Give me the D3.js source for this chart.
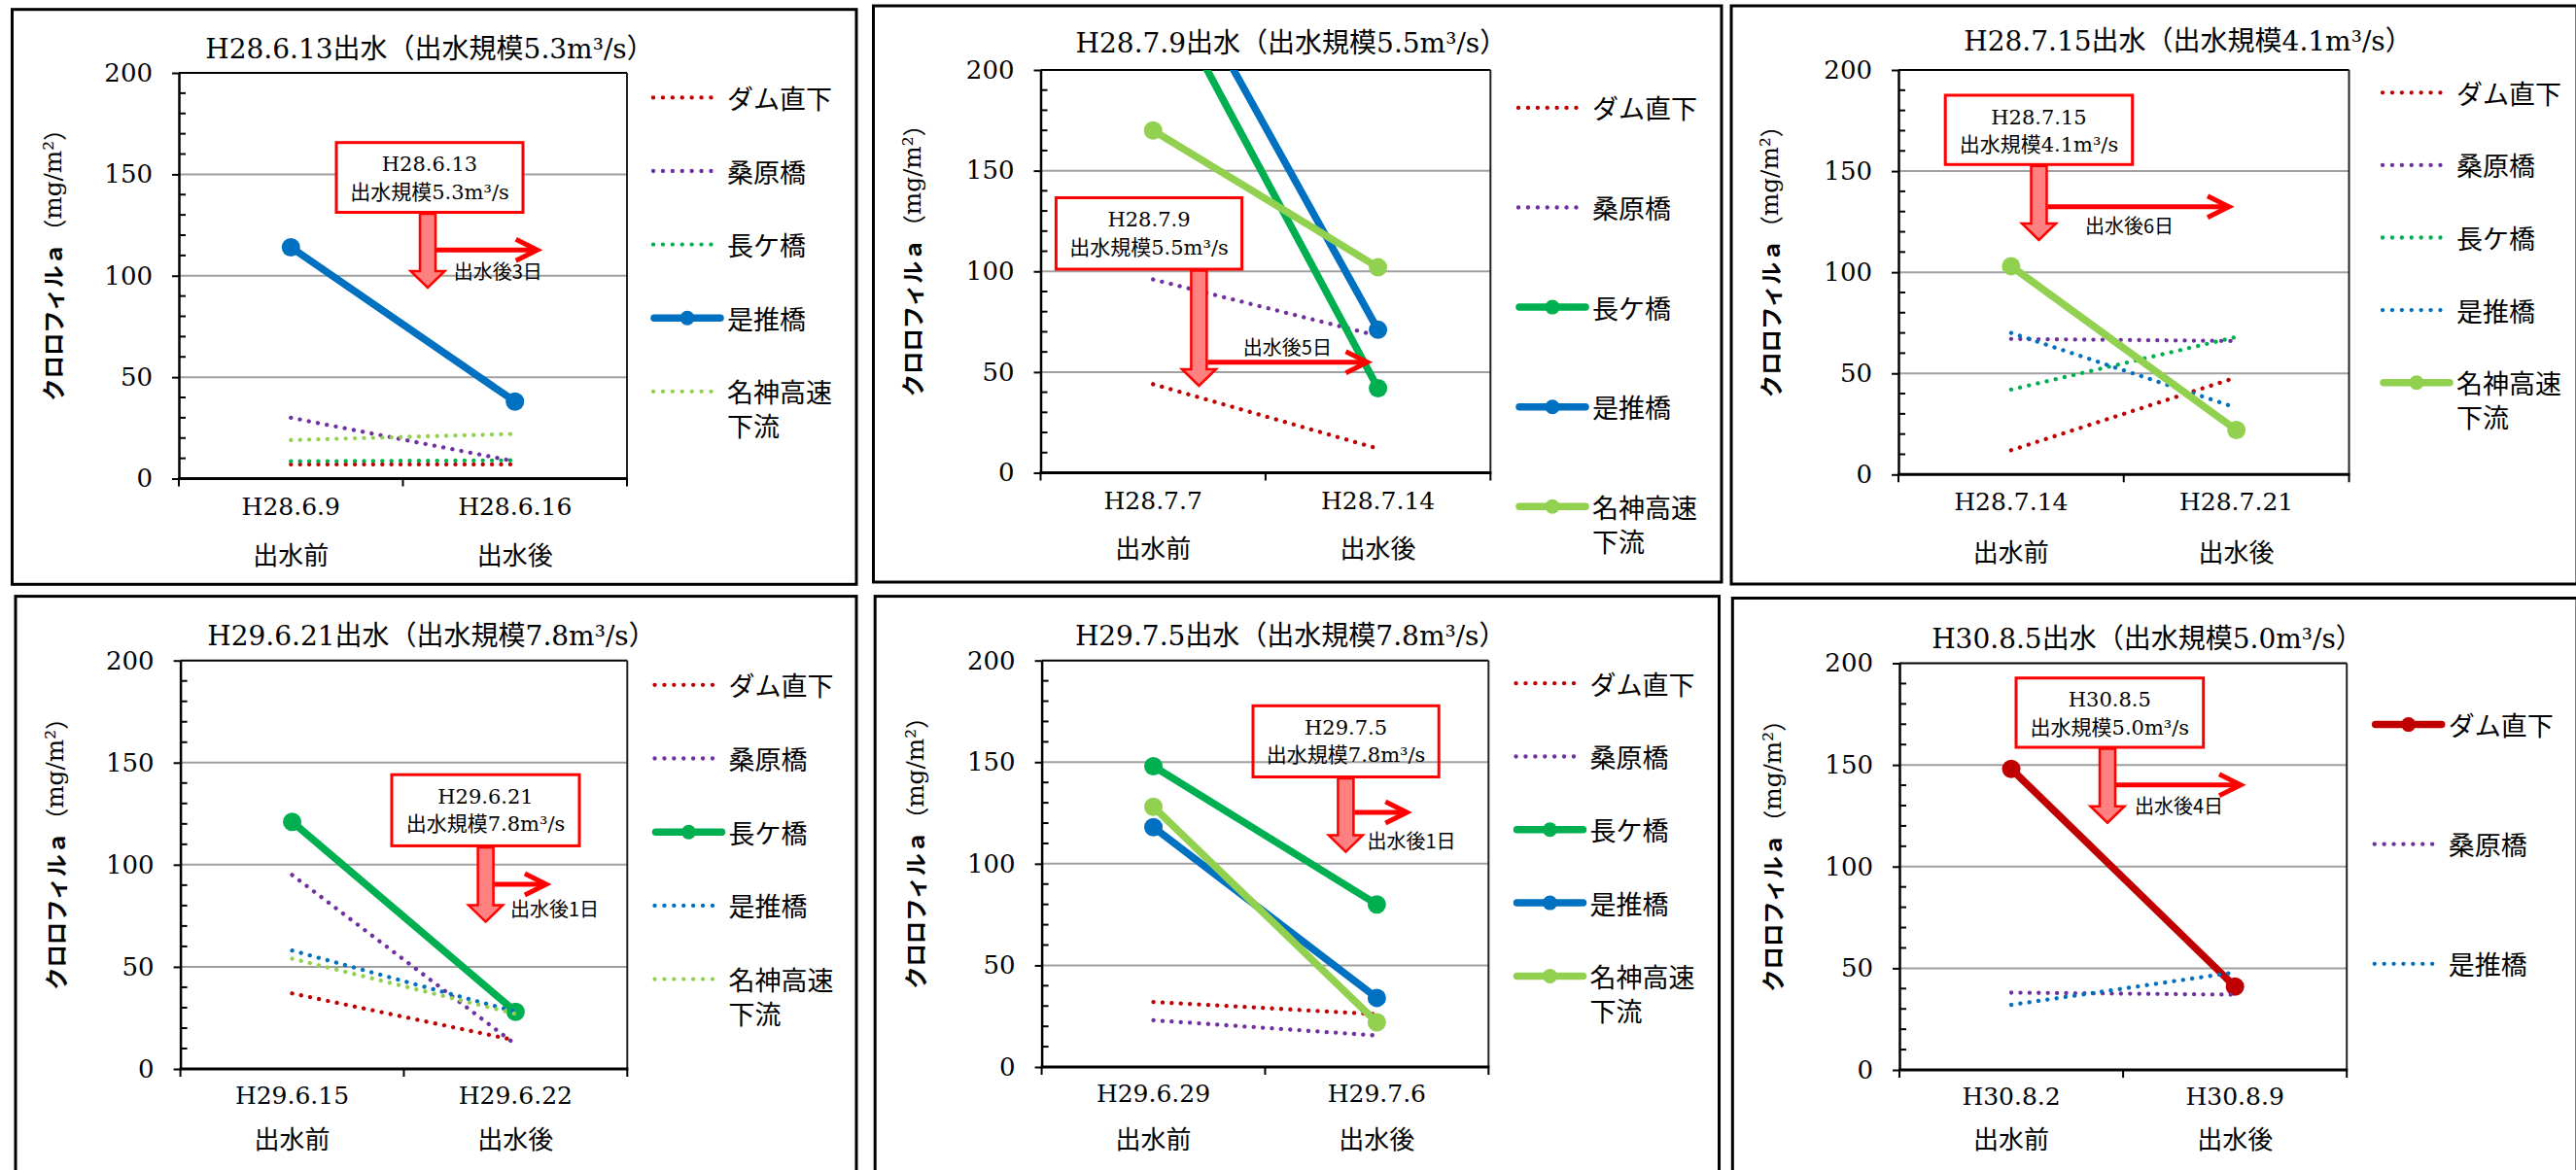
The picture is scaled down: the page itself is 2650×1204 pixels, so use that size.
<!DOCTYPE html>
<html><head><meta charset="utf-8">
<script src="https://cdn.jsdelivr.net/npm/d3@7"></script>
<style>
html,body{margin:0;padding:0;background:#fff;}
svg{display:block;}
</style></head>
<body><svg id="c" width="2650" height="1204"></svg>
<script>
// ---------------- data ----------------
const seriesNames = ["ダム直下","桑原橋","長ケ橋","是推橋","名神高速下流"];
const legendLabels = [["ダム直下"],["桑原橋"],["長ケ橋"],["是推橋"],["名神高速","下流"]];
const floodDates = ["H28.6.13","H28.7.9","H28.7.15","H29.6.21","H29.7.5","H30.8.5"];
const floodScales = ["5.3","5.5","4.1","7.8","7.8","5.0"];
const daysAfter = [3,5,6,1,1,4];
const beforeDates = ["H28.6.9","H28.7.7","H28.7.14","H29.6.15","H29.6.29","H30.8.2"];
const afterDates = ["H28.6.16","H28.7.14","H28.7.21","H29.6.22","H29.7.6","H30.8.9"];
const phaseLabels = ["出水前","出水後"];
const yTicks = [0,50,100,150,200];
const damValues      = [[7,7],[44,12],[12,48],[37,14],[32,26],[148,41]];
const kuwabaraValues = [[30,8.5],[96,68],[67,66],[95,12],[23,15.5],[38,37]];
const nagakeValues   = [[8.5,9],[250,42],[42,68],[121,28],[148,80],null];
const zesuiValues    = [[114,38],[272,71],[70,33],[58,28],[118,34],[32,48]];
const meishinValues  = [[19,22],[170,102],[103,22],[54,27],[128,22],null];
const highlighted = [[3],[2,3,4],[4],[2],[2,3,4],[0]];

// ---------------- styles / layout ----------------
const seriesColors = ["#C00000","#7030A0","#00B050","#0070C0","#92D050"];
const serif = "'DejaVu Serif','Noto Sans CJK JP',serif";
const gothic = "'Noto Sans CJK JP',sans-serif";
const layout = [
 {frame:[12.5,9.7,881,601.3], plot:[184,75,645,492.5], title:[442,50], yLabX:54, xLabY:[521,569],
  leg:[671,100.4,75.6], box:[346,146.7,538,218.5], shaftX:440, tipY:296, arrowY:257.3, arrowX2:552.7, day:[466.7,278.3], boxFill:"#fff"},
 {frame:[898.5,6,1771,599], plot:[1070.5,72,1533.3,486.5], title:[1328.4,44.7], yLabX:938, xLabY:[515.6,562.3],
  leg:[1561,110.9,102.6], box:[1086.4,203.5,1277.6,277], shaftX:1233.4, tipY:397, arrowY:372.8, arrowX2:1406.5, day:[1278.8,356], boxFill:"#fff"},
 {frame:[1781,6,2651,601], plot:[1953,72,2416.5,488.3], title:[2251,42.8], yLabX:1820.5, xLabY:[516.7,566],
  leg:[2450,95.3,74.6], box:[2001.2,98,2193.7,169.3], shaftX:2097.5, tipY:247, arrowY:212.8, arrowX2:2293, day:[2144.9,231.5], boxFill:"#fff"},
 {frame:[16,613.6,881,1215], plot:[185.6,679.7,645.3,1100], title:[444,654], yLabX:56.8, xLabY:[1127.7,1170],
  leg:[672.5,704.8,75.7], box:[403,797.2,596,870.4], shaftX:499.6, tipY:948.6, arrowY:910.1, arrowX2:561.9, day:[525,934.4], boxFill:"#fff"},
 {frame:[900.2,613.6,1768.5,1215], plot:[1071.6,679.7,1531.3,1098], title:[1327.7,654], yLabX:941, xLabY:[1125.8,1170],
  leg:[1558.5,703.2,75.3], box:[1289,726.3,1480.2,799.5], shaftX:1384.4, tipY:876.6, arrowY:836.1, arrowX2:1447.3, day:[1406.5,864.3], boxFill:"none"},
 {frame:[1782.3,615.5,2651,1215], plot:[1954,682.5,2414.2,1101], title:[2209,657], yLabX:1823, xLabY:[1128.5,1170],
  leg:[2441.7,745.6,123.1], box:[2074,697.7,2266.7,769], shaftX:2168, tipY:846.7, arrowY:807.7, arrowX2:2305, day:[2196,828.3], boxFill:"#fff"}
];
// rotated y-axis title: pieces with their font and target length
const yLabelParts = [
  {t:"クロロフィルａ", f:gothic, w:"700", len:163},
  {t:"（", f:gothic, w:"400", len:24},
  {t:"mg/m²", f:"'DejaVu Serif',serif", w:"400", len:81},
  {t:"）", f:gothic, w:"400", len:24}
];

const allValues = [damValues,kuwabaraValues,nagakeValues,zesuiValues,meishinValues];
const svg = d3.select("#c");
svg.append("rect").attr("width",2650).attr("height",1204).attr("fill","#fff");

layout.forEach((L,p)=>{
  const g = svg.append("g");
  const [fl,ft,fr,fb] = L.frame;
  g.append("rect").attr("x",fl).attr("y",ft).attr("width",fr-fl).attr("height",fb-ft)
    .attr("fill","none").attr("stroke","#000").attr("stroke-width",3);

  const [pl,pt,pr,pb] = L.plot;
  const dates = [beforeDates[p], afterDates[p]];
  const x = d3.scaleBand().domain(dates).range([pl,pr]).padding(0);
  const y = d3.scaleLinear().domain([0,200]).range([pb,pt]);
  const cx = d => x(d) + x.bandwidth()/2;

  // gridlines
  g.selectAll(null).data(yTicks.filter(v=>v>0 && v<200)).join("line")
    .attr("x1",pl).attr("x2",pr).attr("y1",d=>y(d)).attr("y2",d=>y(d))
    .attr("stroke","#A0A0A0").attr("stroke-width",2);
  // top & right frame of plot
  g.append("line").attr("x1",pl).attr("x2",pr).attr("y1",pt).attr("y2",pt).attr("stroke","#000").attr("stroke-width",2);
  g.append("line").attr("x1",pr).attr("x2",pr).attr("y1",pt).attr("y2",pb).attr("stroke","#222").attr("stroke-width",2);
  // minor ticks (inside)
  g.selectAll(null).data(d3.range(10,200,10).filter(v=>v%50!==0)).join("line")
    .attr("x1",pl).attr("x2",pl+7).attr("y1",d=>y(d)).attr("y2",d=>y(d))
    .attr("stroke","#000").attr("stroke-width",2);
  // left axis
  const ax = g.append("g").attr("transform",`translate(${pl},0)`)
    .call(d3.axisLeft(y).tickValues(yTicks).tickSize(7).tickSizeOuter(0).tickPadding(20));
  ax.select(".domain").attr("stroke","#000").attr("stroke-width",2.5);
  ax.selectAll(".tick line").attr("stroke","#000").attr("stroke-width",2);
  ax.selectAll(".tick text").attr("font-family",serif).attr("font-size",26).attr("fill","#000");

  // bottom axis
  g.append("line").attr("x1",pl-1).attr("x2",pr+1).attr("y1",pb).attr("y2",pb).attr("stroke","#000").attr("stroke-width",3);
  g.selectAll(null).data([pl, x(dates[1]), pr]).join("line")
    .attr("x1",d=>d).attr("x2",d=>d).attr("y1",pb).attr("y2",pb+8)
    .attr("stroke","#000").attr("stroke-width",2);
  g.selectAll(null).data(dates).join("text")
    .attr("x",d=>cx(d)).attr("y",L.xLabY[0]).attr("text-anchor","middle").attr("dominant-baseline","central")
    .attr("font-family",serif).attr("font-size",25).text(d=>d);
  g.selectAll(null).data(phaseLabels).join("text")
    .attr("x",(d,i)=>cx(dates[i])).attr("y",L.xLabY[1]).attr("text-anchor","middle").attr("dominant-baseline","central")
    .attr("font-family",gothic).attr("font-size",26).text(d=>d);

  // y label (rotated); pieces laid out one after another, each sized to its measured length
  const total = d3.sum(yLabelParts, d=>d.len);
  const ylg = g.append("g").attr("transform",`translate(${L.yLabX},${(pt+pb)/2-17}) rotate(-90)`);
  let pos = -total/2;
  yLabelParts.forEach(part=>{
    const t = ylg.append("text").attr("x",pos).attr("y",0).attr("dominant-baseline","central")
      .style("font-family",part.f).style("font-weight",part.w).style("font-size","24px").text(part.t);
    const len = t.node().getComputedTextLength();
    if(len>0){
      const fs = Math.max(16, Math.min(34, 24*part.len/len));
      t.style("font-size",fs+"px");
    }
    pos += part.len;
  });

  // title
  g.append("text").attr("x",L.title[0]).attr("y",L.title[1]).attr("text-anchor","middle").attr("dominant-baseline","central")
    .attr("font-family",serif).attr("font-size",28).text(`${floodDates[p]}出水（出水規模${floodScales[p]}m³/s）`);

  // series
  const clipId = "clip"+p;
  g.append("clipPath").attr("id",clipId).append("rect").attr("x",pl).attr("y",pt).attr("width",pr-pl).attr("height",pb-pt);
  const sg = g.append("g").attr("clip-path",`url(#${clipId})`);
  const line = d3.line().x((d,i)=>cx(dates[i])).y(d=>y(d));
  allValues.forEach((vals,s)=>{
    const v = vals[p]; if(!v) return;
    const solid = highlighted[p].includes(s);
    const path = sg.append("path").datum(v).attr("d",line).attr("fill","none").attr("stroke",seriesColors[s]);
    if(solid){
      path.attr("stroke-width",7.5).attr("stroke-linecap","round");
      sg.selectAll(null).data(v).join("circle").attr("cx",(d,i)=>cx(dates[i])).attr("cy",d=>y(d)).attr("r",9.5).attr("fill",seriesColors[s]);
    } else {
      path.attr("stroke-width",4.3).attr("stroke-dasharray","0.1 9.3").attr("stroke-linecap","round");
    }
  });

  // legend
  const [lx,ly0,ldy] = L.leg;
  let row = 0;
  allValues.forEach((vals,s)=>{
    if(!vals[p]) return;
    const ly = ly0 + row*ldy; row++;
    const solid = highlighted[p].includes(s);
    if(solid){
      g.append("line").attr("x1",lx+2).attr("x2",lx+70).attr("y1",ly).attr("y2",ly)
        .attr("stroke",seriesColors[s]).attr("stroke-width",7.5).attr("stroke-linecap","round");
      g.append("circle").attr("cx",lx+36).attr("cy",ly).attr("r",7.5).attr("fill",seriesColors[s]);
    } else {
      g.append("line").attr("x1",lx+1).attr("x2",lx+62).attr("y1",ly).attr("y2",ly)
        .attr("stroke",seriesColors[s]).attr("stroke-width",4.3).attr("stroke-dasharray","0.1 9.8").attr("stroke-linecap","round");
    }
    legendLabels[s].forEach((t,k)=>{
      g.append("text").attr("x",lx+77).attr("y",ly+k*35).attr("dominant-baseline","central")
        .attr("font-family",gothic).attr("font-size",27).text(t);
    });
  });

  // annotation
  const [bx0,by0,bx1,by1] = L.box;
  const ag = g.append("g");
  ag.append("rect").attr("x",bx0).attr("y",by0).attr("width",bx1-bx0).attr("height",by1-by0)
    .attr("fill",L.boxFill).attr("stroke","#FF0000").attr("stroke-width",3);
  const bcx = (bx0+bx1)/2;
  ag.append("text").attr("x",bcx).attr("y",by0+22.5).attr("text-anchor","middle").attr("dominant-baseline","central")
    .attr("font-family",serif).attr("font-size",21).text(floodDates[p]);
  ag.append("text").attr("x",bcx).attr("y",by0+51).attr("text-anchor","middle").attr("dominant-baseline","central")
    .attr("font-family",serif).attr("font-size",21).text(`出水規模${floodScales[p]}m³/s`);
  const sx = L.shaftX, hs = 8, hw = 17.5, hy = L.tipY-17;
  ag.append("polygon").attr("points",[[sx-hs,by1+1.5],[sx+hs,by1+1.5],[sx+hs,hy],[sx+hw,hy],[sx,L.tipY],[sx-hw,hy],[sx-hs,hy]].map(d=>d.join(",")).join(" "))
    .attr("fill","#FF8080").attr("stroke","#FF0000").attr("stroke-width",2.5).attr("stroke-linejoin","miter");
  ag.append("line").attr("x1",sx+hs+1).attr("x2",L.arrowX2-2).attr("y1",L.arrowY).attr("y2",L.arrowY)
    .attr("stroke","#FF0000").attr("stroke-width",5);
  ag.append("path").attr("d",`M${L.arrowX2-22},${L.arrowY-11}L${L.arrowX2},${L.arrowY}L${L.arrowX2-22},${L.arrowY+11}`)
    .attr("fill","none").attr("stroke","#FF0000").attr("stroke-width",5);
  ag.append("text").attr("x",L.day[0]).attr("y",L.day[1]).attr("dominant-baseline","central")
    .attr("font-family",gothic).attr("font-size",20).text(`出水後${daysAfter[p]}日`);
});
</script>
</body></html>
